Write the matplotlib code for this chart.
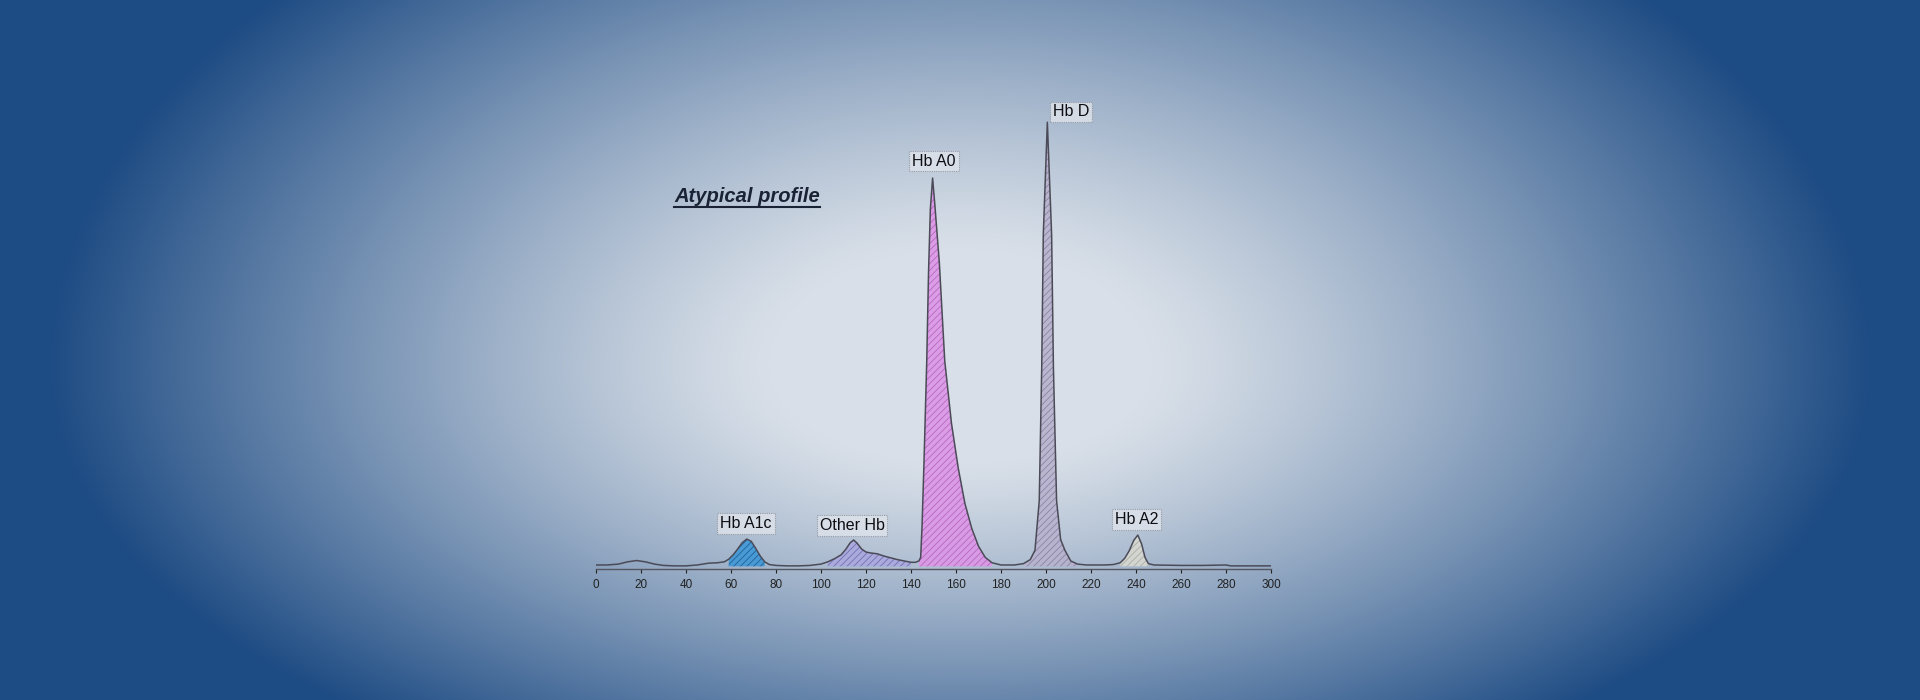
import numpy as np
import matplotlib
matplotlib.use("Agg")
import matplotlib.pyplot as plt
from matplotlib.colors import to_rgb
from matplotlib.lines import Line2D

plt.rcParams['font.family'] = ['Liberation Sans', 'DejaVu Sans']
plt.rcParams['hatch.linewidth'] = 0.6

# ---- chromatogram readings (retention time, signal) ----
time = [0, 5, 10, 14, 18, 22, 26, 30, 35, 40, 45, 50, 54, 57, 59, 61, 63, 65, 67, 69, 71, 73, 75, 77,
        80, 85, 90, 95, 100, 103, 106, 109, 111, 113, 114.5, 116, 118, 120, 122, 125, 128, 131, 134,
        137, 140, 142, 143.5, 144.3, 144.9, 145.8, 147, 147.8, 148.6, 149.6, 150.6, 152.6, 155, 158,
        161, 164, 167, 170, 173, 176, 180, 186, 190, 193, 195.1, 197.0, 198.1, 198.8, 200.6, 202.5,
        203.3, 204.7, 206.5, 208.4, 211, 214, 218, 226, 230, 233, 235, 237, 239, 240.8, 242.5, 244,
        245.5, 248, 260, 270, 280, 282, 290, 300]
signal = [0.3, 0.3, 0.5, 1.0, 1.3, 1.0, 0.5, 0.2, 0.1, 0.1, 0.3, 0.7, 0.8, 1.0, 1.6, 2.6, 3.9, 5.3, 6.1, 5.6, 4.0, 2.3, 1.0, 0.4,
          0.2, 0.1, 0.1, 0.2, 0.5, 1.0, 1.7, 2.6, 3.8, 5.3, 5.9, 5.2, 3.9, 3.2, 3.0, 2.8, 2.3, 1.9, 1.5,
          1.2, 0.9, 0.9, 1.2, 2.0, 8.8, 23.7, 46, 66, 80, 87, 81, 68, 46, 32,
          22, 14, 8.5, 4.5, 2.0, 0.8, 0.3, 0.3, 0.6, 1.5, 3.6, 14.7, 44.5, 74.3, 99.5, 74.3,
          44.5, 14.7, 6.0, 3.6, 1.2, 0.5, 0.3, 0.3, 0.4, 0.8, 1.8, 3.5, 5.8, 7.0, 5.0, 2.0,
          0.6, 0.3, 0.2, 0.2, 0.3, 0.1, 0.1, 0.1]

# ---- peaks ----
peak_names = ["Hb A1c", "Other Hb", "Hb A0", "Hb D", "Hb A2"]
peak_start = [58, 102, 143, 190, 233]
peak_end = [76, 141, 178, 214, 246]
label_x = [66.7, 113.8, 150.2, 211.0, 240.4]
label_y = [9.6, 9.2, 90.8, 101.8, 10.5]
fill_colors = ["#3f97d6", "#aaa8de", "#dc96e6", "#b8b2ce", "#d8d9d1"]
hatch_colors = ["#1d5b92", "#6e6ab0", "#b462bc", "#847e9c", "#a8a99f"]

xticks = list(range(0, 301, 20))

W, H = 1920, 700
fig = plt.figure(figsize=(W / 100, H / 100), dpi=100)

# ---- background radial gradient ----
bg = fig.add_axes([0, 0, 1, 1])
yy, xx = np.mgrid[0:H, 0:W]
cx, cy = 960.0, 367.0
a = 960.0
b = np.where(yy < cy, 593.0, 482.0)
r = np.sqrt(((xx - cx) / a) ** 2 + ((yy - cy) / b) ** 2)
t = np.clip((r - 0.2) / 0.75, 0, 1) ** 1.2
light = np.array(to_rgb("#d8dfe8"))
dark = np.array(to_rgb("#1d4b83"))
img = light[None, None, :] * (1 - t[..., None]) + dark[None, None, :] * t[..., None]
bg.imshow(img, extent=[0, W, H, 0], aspect='auto', interpolation='bilinear')
bg.set_xlim(0, W)
bg.set_ylim(H, 0)
bg.axis('off')

# ---- chart ----
ax = fig.add_axes([596 / W, 131 / H, 675 / W, 449 / H])
ax.patch.set_alpha(0)
x = np.array(time)
y = np.array(signal)

for name, s, e, fc, hc in zip(peak_names, peak_start, peak_end, fill_colors, hatch_colors):
    m = (x >= s) & (x <= e)
    ax.fill_between(x[m], 0, y[m], facecolor=fc, edgecolor=hc, hatch='/////',
                    linewidth=0, alpha=0.9, zorder=2)

ax.plot(x, y, color="#4b4b58", lw=1.1, zorder=3)

for name, lx, ly in zip(peak_names, label_x, label_y):
    ax.text(lx, ly, name, ha='center', va='center', fontsize=11.5, color='#0d0d12',
            bbox=dict(boxstyle='square,pad=0.18', fc='#dfe4eb', ec='#8a8f98', lw=0.8,
                      ls=(0, (1, 1)), alpha=0.8),
            zorder=5, clip_on=False)

ax.set_xlim(0, 300)
ax.set_ylim(-0.6, 100)
ax.set_xticks(xticks)
ax.set_xticklabels([str(v) for v in xticks])
ax.tick_params(axis='x', labelsize=8.5, colors='#222222', length=3, width=0.8, pad=4)
ax.set_yticks([])
for sp in ['left', 'right', 'top']:
    ax.spines[sp].set_visible(False)
ax.spines['bottom'].set_color('#555560')
ax.spines['bottom'].set_linewidth(1.0)

# ---- title ----
title = fig.text(747 / W, 1 - 197 / H, "Atypical profile", ha='center', va='center',
                 fontsize=14.5, style='italic', fontweight='bold', color='#1a2336')
fig.canvas.draw()
bb = title.get_window_extent(fig.canvas.get_renderer())
uy = (bb.y0 - 1) / H
fig.add_artist(Line2D([bb.x0 / W, bb.x1 / W], [uy, uy], color='#1a2336', lw=1.5,
                      transform=fig.transFigure))

fig.savefig("out.png", dpi=100)
